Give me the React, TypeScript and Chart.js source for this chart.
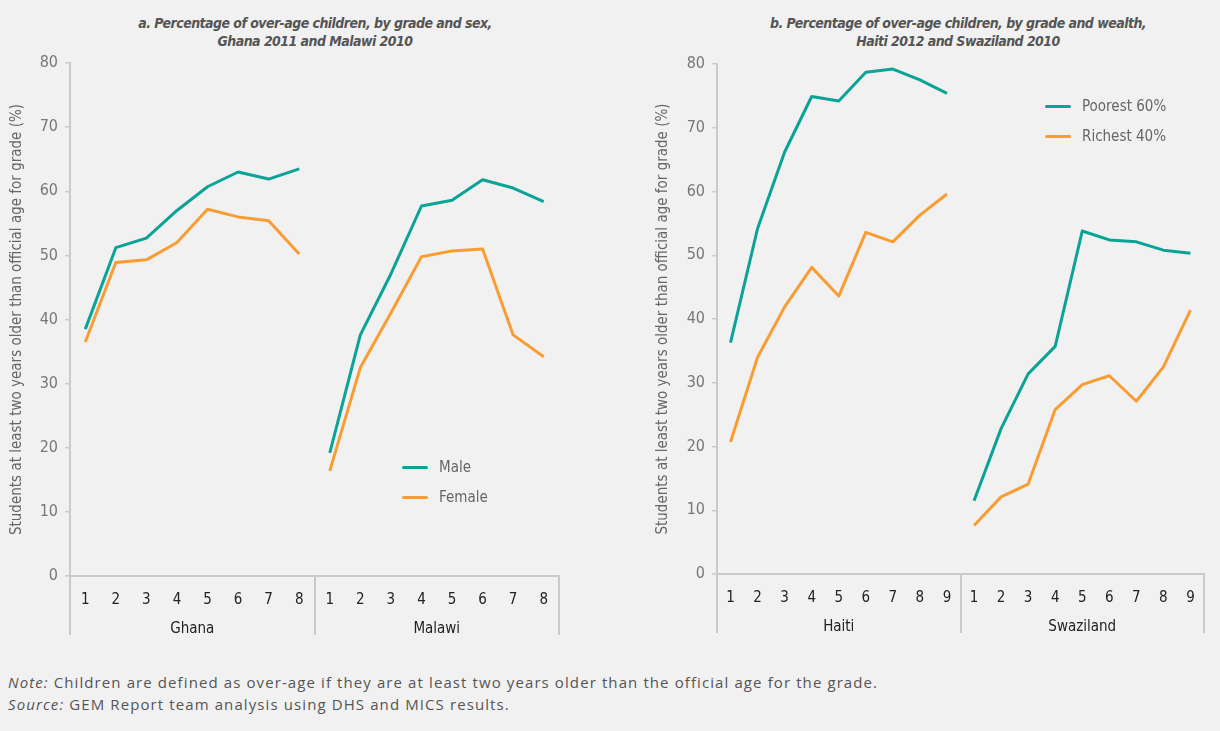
import React, { useEffect, useRef } from "react";
import { Chart, registerables } from "chart.js";

Chart.register(...registerables);

// ---------- data ----------
const gradesA = ["1", "2", "3", "4", "5", "6", "7", "8"];
const gradesB = ["1", "2", "3", "4", "5", "6", "7", "8", "9"];
const groupsA = ["Ghana", "Malawi"];
const groupsB = ["Haiti", "Swaziland"];

const ghanaMale = [38.5, 51.2, 52.7, 57.0, 60.7, 63.0, 61.9, 63.5];
const ghanaFemale = [36.5, 48.9, 49.3, 52.0, 57.2, 56.0, 55.4, 50.2];
const malawiMale = [19.2, 37.6, 47.1, 57.7, 58.6, 61.8, 60.5, 58.4];
const malawiFemale = [16.4, 32.5, 41.0, 49.8, 50.7, 51.0, 37.6, 34.2];

const haitiPoorest = [36.3, 54.2, 66.2, 74.9, 74.2, 78.7, 79.2, 77.5, 75.4];
const haitiRichest = [20.7, 34.0, 41.9, 48.1, 43.6, 53.6, 52.1, 56.3, 59.6];
const swazilandPoorest = [11.5, 22.8, 31.4, 35.7, 53.8, 52.4, 52.1, 50.8, 50.3];
const swazilandRichest = [7.6, 12.1, 14.1, 25.8, 29.7, 31.1, 27.1, 32.5, 41.4];

const seriesNamesA = ["Male", "Female"];
const seriesNamesB = ["Poorest 60%", "Richest 40%"];

const yMin = 0;
const yMax = 80;
const yStep = 10;

const TEAL = "#0aa396";
const ORANGE = "#f99d33";
const AXIS = "#cacaca";
const BG = "#f1f1f1";
const COND = "'Liberation Sans Narrow', 'DejaVu Sans Condensed', 'Roboto', sans-serif";
const YTITLE = "Students at least two years older than official age for grade (%)";

function pad(n: number): null[] {
  return Array.from({ length: n }, () => null);
}

function makeGroupPlugin(groups: string[], perGroup: number) {
  return {
    id: "groupLabels",
    afterDraw(chart: any) {
      const { ctx, chartArea } = chart;
      const total = groups.length * perGroup;
      const w = (chartArea.right - chartArea.left) / total;
      ctx.save();
      ctx.strokeStyle = AXIS;
      ctx.lineWidth = 2;
      for (let g = 0; g <= groups.length; g++) {
        const px = Math.round(chartArea.left + g * perGroup * w);
        ctx.beginPath();
        ctx.moveTo(px, chartArea.bottom);
        ctx.lineTo(px, chartArea.bottom + 59);
        ctx.stroke();
      }
      ctx.fillStyle = "#222";
      ctx.font = `15px ${COND}`;
      ctx.textAlign = "center";
      ctx.textBaseline = "middle";
      groups.forEach((name, g) => {
        const cx = chartArea.left + (g * perGroup + perGroup / 2) * w;
        ctx.fillText(name, cx, chartArea.bottom + 53);
      });
      ctx.restore();
    },
  };
}

function buildConfig(
  grades: string[],
  groups: string[],
  s1: [number[], number[]],
  s2: [number[], number[]],
  names: string[],
  yWidth: number,
  titlePad: number,
  padRight: number,
  padTop: number,
  xHeight: number
) {
  const n = grades.length;
  const labels: string[] = [];
  groups.forEach(() => grades.forEach((g) => labels.push(g)));
  const mk = (label: string, data: (number | null)[], color: string) => ({
    label,
    data,
    borderColor: color,
    backgroundColor: color,
    borderWidth: 3,
    pointRadius: 0,
    pointHoverRadius: 0,
    tension: 0,
    fill: false,
    spanGaps: false,
    borderJoinStyle: "round" as const,
  });
  const datasets = [
    mk(names[0], [...s1[0], ...pad(n)], TEAL),
    mk(names[0], [...pad(n), ...s1[1]], TEAL),
    mk(names[1], [...s2[0], ...pad(n)], ORANGE),
    mk(names[1], [...pad(n), ...s2[1]], ORANGE),
  ];
  return {
    type: "line" as const,
    data: { labels, datasets },
    plugins: [makeGroupPlugin(groups, n)],
    options: {
      responsive: false,
      animation: false as const,
      layout: { padding: { left: 0, right: padRight, top: padTop, bottom: 0 } },
      plugins: { legend: { display: false }, tooltip: { enabled: false }, title: { display: false } },
      scales: {
        x: {
          type: "category" as const,
          offset: true,
          grid: { display: false, drawTicks: false },
          border: { display: true, color: AXIS, width: 2 },
          ticks: {
            color: "#222",
            font: { family: COND, size: 15 },
            padding: 15,
            maxRotation: 0,
            autoSkip: false,
          },
          afterFit(scale: any) {
            scale.height = xHeight;
            scale.paddingLeft = 0;
            scale.paddingRight = 0;
          },
        },
        y: {
          min: yMin,
          max: yMax,
          grid: { drawOnChartArea: false, drawTicks: true, tickLength: 5, color: AXIS, lineWidth: 1.5 },
          border: { display: true, color: AXIS, width: 2 },
          ticks: {
            stepSize: yStep,
            color: "#777",
            font: { family: COND, size: 16 },
            padding: 7,
          },
          title: {
            display: true,
            text: YTITLE,
            color: "#666",
            font: { family: COND, size: 15 },
            padding: { top: titlePad, bottom: 0 },
          },
          afterFit(scale: any) {
            scale.width = yWidth;
            scale.paddingTop = 0;
            scale.paddingBottom = 0;
          },
        },
      },
    },
  };
}

function ChartBox(props: { config: any; left: number; top: number; width: number; height: number }) {
  const ref = useRef<HTMLCanvasElement | null>(null);
  useEffect(() => {
    if (!ref.current) return;
    const chart = new Chart(ref.current, props.config);
    return () => chart.destroy();
  }, []);
  return (
    <canvas
      ref={ref}
      width={props.width}
      height={props.height}
      style={{ position: "absolute", left: props.left, top: props.top, width: props.width, height: props.height }}
    />
  );
}

function LegendItem(props: { left: number; top: number; color: string; text: string }) {
  return (
    <div style={{ position: "absolute", left: props.left, top: props.top - 10, height: 20, display: "flex", alignItems: "center" }}>
      <div style={{ width: 26, height: 3, borderRadius: 2, background: props.color }} />
      <span style={{ marginLeft: 11, fontFamily: COND, fontSize: 15, color: "#666", lineHeight: "20px" }}>{props.text}</span>
    </div>
  );
}

const titleStyle: React.CSSProperties = {
  position: "absolute",
  width: 500,
  textAlign: "center",
  fontFamily: COND,
  fontStyle: "italic",
  fontWeight: "bold",
  fontSize: 14,
  letterSpacing: -0.55,
  lineHeight: "18px",
  color: "#555",
};

export default function App() {
  useEffect(() => {
    document.body.style.margin = "0";
    document.body.style.background = BG;
  }, []);
  const configA = buildConfig(gradesA, groupsA, [ghanaMale, malawiMale], [ghanaFemale, malawiFemale], seriesNamesA, 70, 8, 51, 13, 60);
  const configB = buildConfig(gradesB, groupsB, [haitiPoorest, swazilandPoorest], [haitiRichest, swazilandRichest], seriesNamesB, 77, 14, 16, 14, 62);
  return (
    <div style={{ position: "fixed", left: 0, top: 0, width: 1220, height: 731, background: BG, overflow: "hidden" }}>
      <div style={{ ...titleStyle, left: 315 - 250, top: 14 }}>
        a. Percentage of over-age children, by grade and sex,
        <br />
        Ghana 2011 and Malawi 2010
      </div>
      <div style={{ ...titleStyle, left: 958 - 250, top: 14 }}>
        b. Percentage of over-age children, by grade and wealth,
        <br />
        Haiti 2012 and Swaziland 2010
      </div>
      <ChartBox config={configA} left={0} top={50} width={610} height={586} />
      <ChartBox config={configB} left={640} top={50} width={580} height={586} />
      <LegendItem left={402} top={467} color={TEAL} text={seriesNamesA[0]} />
      <LegendItem left={402} top={497} color={ORANGE} text={seriesNamesA[1]} />
      <LegendItem left={1045} top={106} color={TEAL} text={seriesNamesB[0]} />
      <LegendItem left={1045} top={136} color={ORANGE} text={seriesNamesB[1]} />
      <div
        style={{
          position: "absolute",
          left: 8,
          top: 671,
          fontFamily: "'Open Sans', sans-serif",
          fontSize: 15,
          lineHeight: "22px",
          color: "#555",
          letterSpacing: 1.1,
        }}
      >
        <div>
          <i>Note:</i> Children are defined as over-age if they are at least two years older than the official age for the grade.
        </div>
        <div>
          <i>Source:</i> GEM Report team analysis using DHS and MICS results.
        </div>
      </div>
    </div>
  );
}
